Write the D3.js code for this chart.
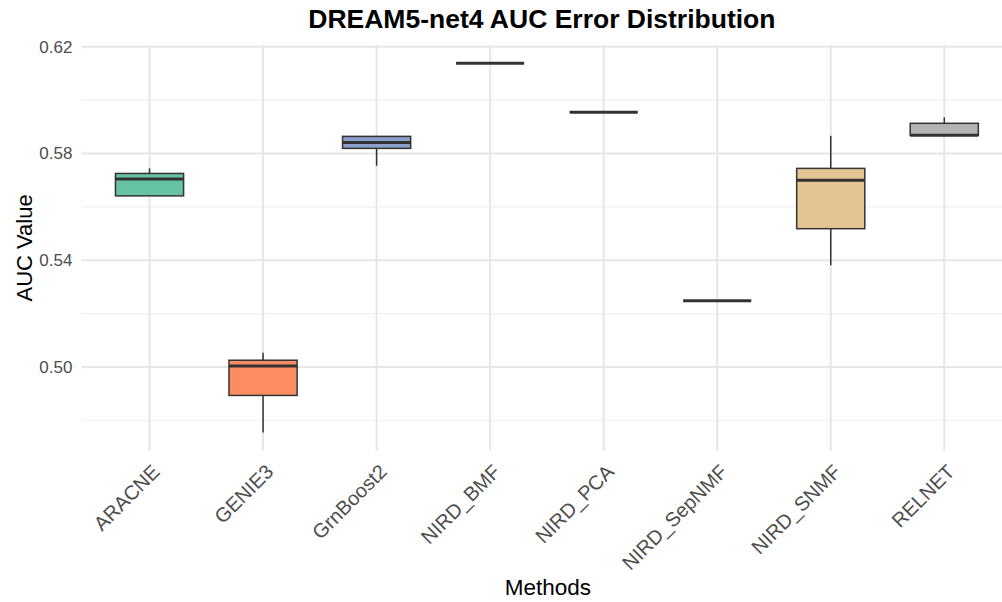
<!DOCTYPE html>
<html>
<head>
<meta charset="utf-8">
<script src="https://cdn.jsdelivr.net/npm/d3@7"></script>
<style>
  html, body { margin: 0; padding: 0; background: #ffffff; }
  svg { display: block; font-family: "Liberation Sans", Arial, sans-serif; }
</style>
</head>
<body>
<svg id="chart" width="1002" height="602"></svg>
<script>
// Methods compared on DREAM5 network 4
const methods = ["ARACNE", "GENIE3", "GrnBoost2", "NIRD_BMF", "NIRD_PCA", "NIRD_SepNMF", "NIRD_SNMF", "RELNET"];

// Box-plot summaries of the AUC values per method
const whiskerLow  = [0.5641, 0.4754, 0.5754, 0.6138, 0.5954, 0.5248, 0.5381, 0.5868];
const quartile1   = [0.5641, 0.4893, 0.5819, 0.6138, 0.5954, 0.5248, 0.5518, 0.5868];
const medians     = [0.5704, 0.5003, 0.5841, 0.6138, 0.5954, 0.5248, 0.5700, 0.5868];
const quartile3   = [0.5725, 0.5025, 0.5864, 0.6138, 0.5954, 0.5248, 0.5744, 0.5913];
const whiskerHigh = [0.5744, 0.5053, 0.5864, 0.6138, 0.5954, 0.5248, 0.5866, 0.5935];

// Set2 fill colours
const fills = ["#66C2A5", "#FC8D62", "#8DA0CB", "#E78AC3", "#A6D854", "#FFD92F", "#E5C494", "#B3B3B3"];

const majorTicks = [0.50, 0.54, 0.58, 0.62];
const minorTicks = [0.48, 0.52, 0.56, 0.60];

const svg = d3.select("#chart");

const panel = { left: 81.4, right: 1012.4, top: 44.8, bottom: 451 };

// y domain: data extent expanded by 5% on each side
const lo = d3.min(whiskerLow), hi = d3.max(whiskerHigh);
const pad = (hi - lo) * 0.05;
const y = d3.scaleLinear().domain([lo - pad, hi + pad]).range([panel.bottom, panel.top]);

const x = d3.scalePoint().domain(methods).range([panel.left, panel.right]).padding(0.6);
const boxW = x.step() * 0.6;

// grid
const grid = svg.append("g");
grid.selectAll("line.minor").data(minorTicks).join("line")
  .attr("x1", panel.left).attr("x2", panel.right)
  .attr("y1", d => y(d)).attr("y2", d => y(d))
  .attr("stroke", "#EFEFEF").attr("stroke-width", 1.2);
grid.selectAll("line.major").data(majorTicks).join("line")
  .attr("x1", panel.left).attr("x2", panel.right)
  .attr("y1", d => y(d)).attr("y2", d => y(d))
  .attr("stroke", "#E6E6E6").attr("stroke-width", 2);
grid.selectAll("line.vert").data(methods).join("line")
  .attr("x1", d => x(d)).attr("x2", d => x(d))
  .attr("y1", panel.top).attr("y2", panel.bottom)
  .attr("stroke", "#E6E6E6").attr("stroke-width", 2);

// y axis labels
const yAxis = d3.axisLeft(y).tickValues(majorTicks).tickFormat(d3.format(".2f")).tickSize(0).tickPadding(0);
const yG = svg.append("g").attr("transform", `translate(${panel.left - 9},0)`).call(yAxis);
yG.select(".domain").remove();
yG.selectAll("text").attr("fill", "#4D4D4D").style("font-size", "17px")
  .style("font-family", '"Liberation Sans", Arial, sans-serif');

// x axis labels, rotated 45 degrees
const xAxis = d3.axisBottom(x).tickSize(0).tickPadding(0);
const xG = svg.append("g").attr("transform", `translate(0,${panel.bottom})`).call(xAxis);
xG.select(".domain").remove();
xG.selectAll("text")
  .attr("fill", "#4D4D4D").style("font-size", "20px")
  .style("font-family", '"Liberation Sans", Arial, sans-serif')
  .attr("text-anchor", "end").attr("y", 0).attr("dy", 0)
  .attr("transform", "translate(11,22) rotate(-45)");

// boxes
const data = methods.map((m, i) => ({
  m, lw: whiskerLow[i], q1: quartile1[i], med: medians[i], q3: quartile3[i], hw: whiskerHigh[i], fill: fills[i]
}));

const g = svg.append("g");
const boxes = g.selectAll("g.box").data(data).join("g");

boxes.append("line")
  .attr("x1", d => x(d.m)).attr("x2", d => x(d.m))
  .attr("y1", d => y(d.q3)).attr("y2", d => y(d.hw))
  .attr("stroke", "#333333").attr("stroke-width", 1.5);
boxes.append("line")
  .attr("x1", d => x(d.m)).attr("x2", d => x(d.m))
  .attr("y1", d => y(d.q1)).attr("y2", d => y(d.lw))
  .attr("stroke", "#333333").attr("stroke-width", 1.5);
boxes.append("rect")
  .attr("x", d => x(d.m) - boxW / 2).attr("width", boxW)
  .attr("y", d => y(d.q3)).attr("height", d => y(d.q1) - y(d.q3))
  .attr("fill", d => d.fill).attr("stroke", "#333333").attr("stroke-width", 1.5);
boxes.append("line")
  .attr("x1", d => x(d.m) - boxW / 2).attr("x2", d => x(d.m) + boxW / 2)
  .attr("y1", d => y(d.med)).attr("y2", d => y(d.med))
  .attr("stroke", "#333333").attr("stroke-width", 3);

// titles
svg.append("text")
  .attr("x", (panel.left + panel.right) / 2 - 5).attr("y", 28)
  .attr("text-anchor", "middle").attr("font-weight", "bold")
  .style("font-size", "26.5px").attr("fill", "#000")
  .text("DREAM5-net4 AUC Error Distribution");

svg.append("text")
  .attr("x", (panel.left + panel.right) / 2 + 1).attr("y", 595)
  .attr("text-anchor", "middle").style("font-size", "22.5px").attr("fill", "#000")
  .text("Methods");

svg.append("text")
  .attr("transform", `translate(32,${(panel.top + panel.bottom) / 2}) rotate(-90)`)
  .attr("text-anchor", "middle").style("font-size", "22px").attr("fill", "#000")
  .text("AUC Value");
</script>
</body>
</html>
